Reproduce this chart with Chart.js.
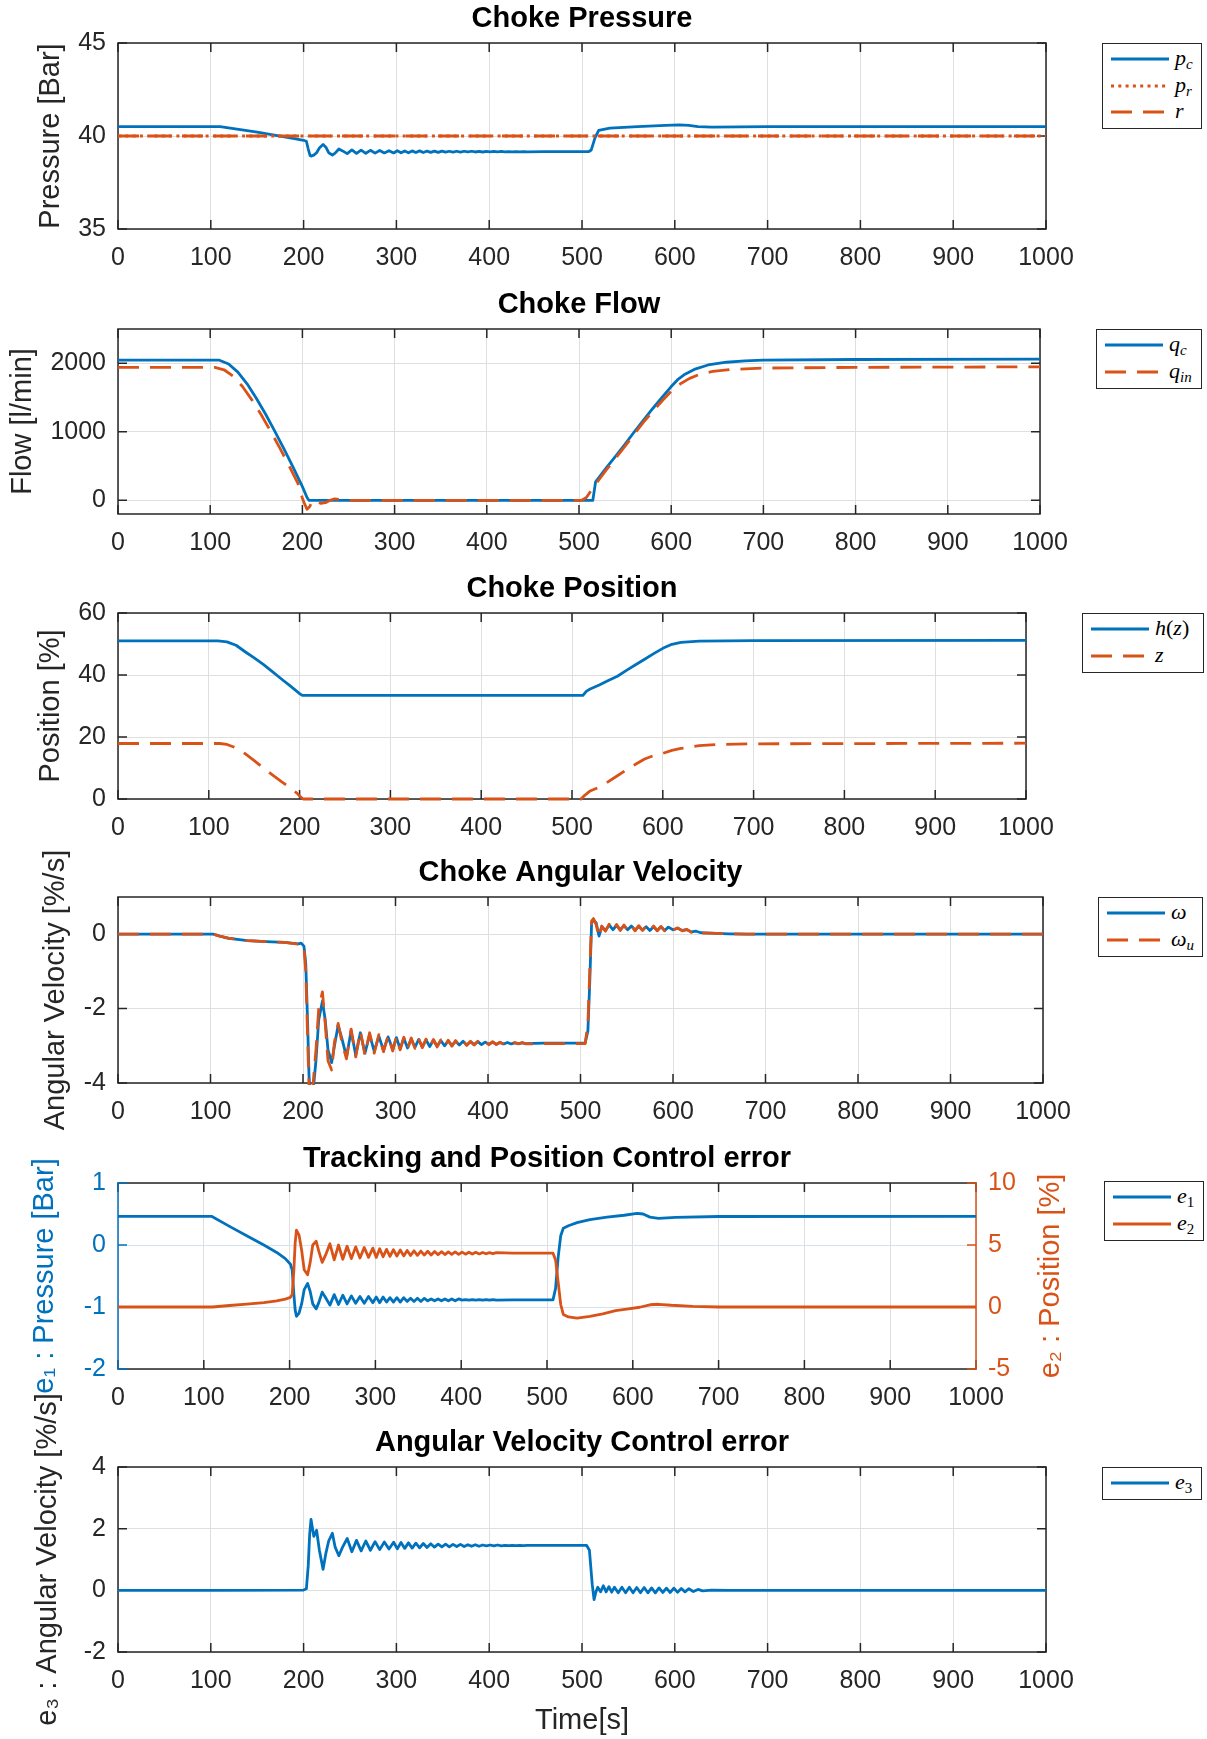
<!DOCTYPE html>
<html lang="en">
<head>
<meta charset="UTF-8">
<title>Choke control simulation</title>
<script src="https://cdn.jsdelivr.net/npm/chart.js"></script>
<style>
    body { margin: 0; background: #fff; }
    #fig { position: relative; width: 1207px; height: 1739px; overflow: hidden; background: #fff; }
    #fig canvas { position: absolute; left: 0; }
    .leg { position: absolute; box-sizing: border-box; border: 1.5px solid #262626; background: #fff; }
    .leg svg { position: absolute; left: 8px; }
    .leg .lab { position: absolute; left: 72px; font-family: 'Liberation Serif', 'DejaVu Serif', serif;
                font-style: italic; font-size: 22px; line-height: 26px; color: #000; white-space: nowrap; }
    .leg sub { font-size: 15px; vertical-align: -4px; line-height: 0; }
    .leg .up { font-style: normal; }
</style>
</head>
<body>
<div id="fig"></div>

<script>
    // ---------- data ----------
    const xTicks = [0, 100, 200, 300, 400, 500, 600, 700, 800, 900, 1000];
    const pressTicks = [35, 40, 45];
    const flowTicks = [0, 1000, 2000];
    const posTicks = [0, 20, 40, 60];
    const velTicks = [-4, -2, 0];
    const e1Ticks = [-2, -1, 0, 1];
    const e2Ticks = [-5, 0, 5, 10];
    const e3Ticks = [-2, 0, 2, 4];

    // common times of the ringing after the choke closes (peaks / troughs)
    const tSettle = [208, 211, 214, 217, 221, 224, 227, 231, 234, 238, 242, 247,
        252, 257, 262, 267, 272, 277, 282, 287, 292, 297,
        301, 305, 309, 313, 317, 321, 325, 329, 333, 337, 341, 345, 349, 353, 357, 361,
        365, 369, 373, 377, 381, 385, 389, 393, 397, 401, 405, 409, 413, 417, 421, 425,
        429, 433, 437, 441];

    // choke pressure
    const pcHeadT = [0, 110, 130, 150, 170, 190, 200, 203, 205, 207];
    const pcHeadV = [40.5, 40.5, 40.36, 40.21, 40.03, 39.86, 39.77, 39.72, 39.3, 38.95];
    const pcRing = [38.92, 38.97, 39.1, 39.35, 39.55, 39.4, 39.1, 38.98, 39.08, 39.3, 39.2, 39.05,
        39.25, 39.06, 39.24, 39.07, 39.23, 39.08, 39.22, 39.09, 39.21, 39.09,
        39.21, 39.1, 39.2, 39.1, 39.2, 39.11, 39.2, 39.11, 39.19, 39.12,
        39.19, 39.12, 39.19, 39.13, 39.18, 39.13, 39.18, 39.13, 39.18, 39.14,
        39.18, 39.14, 39.17, 39.14, 39.17, 39.15, 39.17, 39.15, 39.17, 39.15,
        39.16, 39.15, 39.16, 39.15, 39.16, 39.15];
    const pcTailT = [460, 507, 510, 514, 518, 530, 560, 590, 605, 615, 625, 640, 700, 1000];
    const pcTailV = [39.155, 39.155, 39.25, 39.9, 40.3, 40.42, 40.5, 40.57, 40.6, 40.57, 40.5, 40.48, 40.5, 40.5];
    const refT = [0, 1000];
    const prV = [40, 40];
    const rV = [40, 40];

    // choke flow
    const qcT = [0, 110, 120, 130, 140, 150, 160, 170, 180, 190, 200, 205, 207, 512, 515, 518, 530, 540,
        550, 560, 570, 580, 590, 600, 607, 615, 625, 640, 660, 680, 700, 800, 1000];
    const qcV = [2045, 2045, 1990, 1870, 1700, 1490, 1260, 1010, 750, 480, 200, 40, 0, 0, 0, 270, 480, 650,
        820, 1000, 1170, 1340, 1500, 1660, 1760, 1840, 1910, 1975, 2015, 2035, 2045, 2055, 2060];
    const qinT = [0, 105, 115, 125, 135, 145, 155, 165, 175, 185, 195, 200, 202, 205, 208, 211, 215, 220,
        225, 230, 235, 240, 250, 503, 508, 513, 520, 530, 540, 550, 560, 570, 580, 590, 600, 610,
        620, 630, 645, 665, 700, 800, 1000];
    const qinV = [1939, 1939, 1905, 1810, 1660, 1470, 1255, 1020, 775, 520, 250, 30, -40, -130, -90, 0, -15, -45,
        -35, 0, 22, 12, 0, 0, 40, 140, 270, 450, 620, 790, 970, 1140, 1300, 1450, 1590, 1700,
        1780, 1835, 1880, 1910, 1930, 1940, 1948];

    // choke position
    const hT = [0, 110, 120, 130, 140, 150, 160, 170, 180, 190, 200, 203, 512, 516, 520, 530, 540, 550,
        560, 570, 580, 590, 600, 610, 620, 640, 700, 1000];
    const hV = [51, 51, 50.7, 49.6, 47.5, 45.5, 43.4, 41.1, 38.7, 36.4, 34.0, 33.4, 33.4, 34.8, 35.5, 36.8, 38.2, 39.6,
        41.5, 43.3, 45.1, 46.9, 48.6, 49.9, 50.5, 50.9, 51.1, 51.2];
    const zT = [0, 112, 120, 130, 140, 150, 160, 170, 180, 190, 197, 201, 204, 510, 514, 520, 530, 540,
        550, 560, 570, 580, 590, 600, 610, 620, 640, 660, 700, 1000];
    const zV = [17.9, 17.9, 17.6, 16.5, 14.6, 12.4, 10.0, 7.8, 5.6, 3.5, 1.9, 0.7, 0, 0, 1.2, 2.6, 3.8, 5.6,
        7.5, 9.4, 11.2, 12.9, 14.0, 14.7, 15.7, 16.3, 17.2, 17.6, 17.8, 18.0];

    // choke angular velocity
    const wHeadT = [0, 103, 110, 120, 140, 160, 180, 195, 198, 201, 203, 205, 206.5];
    const wHeadV = [0, 0, -0.05, -0.11, -0.17, -0.2, -0.22, -0.26, -0.24, -0.32, -0.8, -2.4, -3.8];
    const wuHeadV = [0, 0, -0.05, -0.11, -0.17, -0.2, -0.22, -0.27, -0.25, -0.35, -1.0, -2.8, -4.1];
    const wRing = [-4.4, -4.2, -3.4, -2.3, -1.8, -2.3, -3.1, -3.45, -3.0, -2.45, -2.8, -3.3,
        -2.6, -3.25, -2.65, -3.2, -2.7, -3.15, -2.74, -3.12, -2.76, -3.1,
        -2.78, -3.08, -2.8, -3.06, -2.82, -3.04, -2.83, -3.03, -2.84, -3.02,
        -2.85, -3.01, -2.86, -3.0, -2.87, -2.99, -2.88, -2.98, -2.88, -2.98,
        -2.89, -2.97, -2.89, -2.97, -2.9, -2.96, -2.9, -2.96, -2.91, -2.95,
        -2.91, -2.95, -2.92, -2.94, -2.92, -2.94];
    const wuRing = [-4.5, -4.0, -3.1, -2.0, -1.55, -2.4, -3.4, -3.65, -2.9, -2.4, -2.9, -3.35,
        -2.55, -3.3, -2.6, -3.25, -2.65, -3.2, -2.7, -3.16, -2.72, -3.14,
        -2.75, -3.11, -2.77, -3.09, -2.79, -3.07, -2.8, -3.05, -2.82, -3.04,
        -2.83, -3.03, -2.84, -3.02, -2.85, -3.01, -2.86, -3.0, -2.87, -2.99,
        -2.88, -2.98, -2.88, -2.98, -2.89, -2.97, -2.89, -2.97, -2.9, -2.96,
        -2.9, -2.96, -2.91, -2.95, -2.91, -2.95];
    const tRecover = [460, 505, 508, 510, 512, 514, 517, 520, 523, 527, 531, 535, 539, 543, 547, 551, 555, 559,
        563, 567, 571, 575, 579, 583, 587, 591, 595, 600, 605, 610, 615, 620, 625, 630, 640, 660, 680, 1000];
    const wTailV = [-2.93, -2.93, -2.6, -1.3, 0.3, 0.38, 0.3, -0.05, 0.2, 0.1, 0.25, 0.12, 0.24, 0.12, 0.23, 0.12, 0.22, 0.11,
        0.21, 0.11, 0.2, 0.1, 0.2, 0.1, 0.2, 0.1, 0.19, 0.12, 0.16, 0.1, 0.12, 0.06, 0.08, 0.04, 0.03, 0.01, 0, 0];
    const wuTailV = [-2.94, -2.94, -2.4, -1.0, 0.35, 0.42, 0.25, -0.08, 0.22, 0.08, 0.27, 0.1, 0.26, 0.1, 0.25, 0.1, 0.24, 0.09,
        0.23, 0.1, 0.22, 0.09, 0.22, 0.09, 0.21, 0.09, 0.2, 0.11, 0.17, 0.09, 0.13, 0.05, 0.09, 0.03, 0.03, 0.01, 0, 0];

    // tracking and position control error
    const e1HeadT = [0, 109, 130, 150, 170, 185, 195, 201, 203, 205, 206.5];
    const e1HeadV = [0.463, 0.463, 0.3, 0.15, 0.0, -0.12, -0.22, -0.31, -0.4, -0.8, -1.05];
    const e1Ring = [-1.15, -1.1, -0.95, -0.72, -0.62, -0.75, -0.95, -1.03, -0.93, -0.76, -0.85, -0.97,
        -0.8, -0.96, -0.81, -0.95, -0.82, -0.94, -0.83, -0.94, -0.83, -0.93,
        -0.84, -0.93, -0.84, -0.92, -0.85, -0.92, -0.85, -0.92, -0.85, -0.91,
        -0.86, -0.91, -0.86, -0.91, -0.86, -0.9, -0.87, -0.9, -0.87, -0.9,
        -0.87, -0.9, -0.87, -0.9, -0.87, -0.89, -0.88, -0.89, -0.88, -0.89,
        -0.88, -0.89, -0.88, -0.89, -0.88, -0.89];
    const e1TailT = [460, 507, 510, 513, 516, 519, 525, 535, 550, 570, 590, 605, 612, 620, 630, 650, 700, 1000];
    const e1TailV = [-0.885, -0.885, -0.7, -0.2, 0.15, 0.27, 0.31, 0.36, 0.41, 0.45, 0.48, 0.51, 0.5, 0.45, 0.43, 0.445, 0.46, 0.463];
    const e2HeadT = [0, 110, 130, 150, 170, 185, 195, 201, 203, 205, 206.5];
    const e2HeadV = [0, 0, 0.12, 0.24, 0.36, 0.5, 0.64, 0.78, 1.0, 3.0, 5.2];
    const e2Ring = [6.2, 5.8, 4.6, 3.0, 2.6, 3.6, 5.0, 5.3, 4.5, 3.6, 4.2, 5.1,
        3.8, 5.0, 3.85, 4.9, 3.9, 4.85, 3.95, 4.8, 4.0, 4.75,
        4.0, 4.7, 4.05, 4.65, 4.08, 4.62, 4.1, 4.6, 4.12, 4.56,
        4.15, 4.53, 4.17, 4.51, 4.19, 4.49, 4.2, 4.48, 4.22, 4.46,
        4.23, 4.45, 4.24, 4.44, 4.25, 4.43, 4.26, 4.42, 4.27, 4.41,
        4.28, 4.4, 4.29, 4.39, 4.3, 4.38];
    const e2TailT = [460, 507, 510, 513, 516, 519, 525, 535, 550, 565, 580, 595, 608, 620, 630, 645, 670, 700, 1000];
    const e2TailV = [4.34, 4.34, 3.8, 2.0, 0.2, -0.6, -0.8, -0.9, -0.75, -0.55, -0.3, -0.15, -0.02, 0.18, 0.22, 0.14, 0.05, 0, 0];

    // angular velocity control error
    const e3HeadT = [0, 110, 200, 203, 205, 206.5];
    const e3HeadV = [0, 0, 0.01, 0.05, 0.8, 1.8];
    const e3Ring = [2.3, 1.75, 1.95, 1.3, 0.68, 1.2, 1.6, 1.85, 1.4, 1.12, 1.4, 1.68,
        1.25, 1.62, 1.28, 1.6, 1.3, 1.58, 1.32, 1.57, 1.34, 1.56,
        1.35, 1.55, 1.36, 1.54, 1.37, 1.53, 1.38, 1.52, 1.39, 1.51,
        1.4, 1.5, 1.41, 1.5, 1.41, 1.49, 1.42, 1.49, 1.42, 1.48,
        1.43, 1.48, 1.43, 1.47, 1.44, 1.47, 1.44, 1.47, 1.44, 1.46,
        1.45, 1.46, 1.45, 1.46, 1.45, 1.46];
    const e3TailT = [460, 505, 508, 511, 513, 515, 517, 520, 523, 526, 529, 532, 535, 539, 543, 547, 551, 555, 559,
        563, 567, 571, 575, 579, 583, 587, 591, 595, 599, 603, 607, 611, 615, 620, 625, 630, 640, 660, 1000];
    const e3TailV = [1.455, 1.455, 1.3, 0.2, -0.3, -0.05, 0.1, -0.05, 0.15, -0.05, 0.12, -0.06, 0.1, -0.08, 0.1, -0.08, 0.1, -0.08, 0.09,
        -0.08, 0.09, -0.08, 0.08, -0.08, 0.08, -0.07, 0.07, -0.07, 0.07, -0.06, 0.06, -0.05, 0.05, -0.04, 0.03, -0.02, 0.01, 0, 0];

    // ---------- helpers ----------
    function pts(t, v) { return t.map((x, i) => ({ x: x, y: v[i] })); }
    function joined(hT, hV, ring, tT, tV) { return pts(hT, hV).concat(pts(tSettle, ring), pts(tT, tV)); }

    const BLUE = '#0072BD', ORANGE = '#D95319', INK = '#262626', GRID = '#dfdfdf';
    const DASH = [21, 11], DOT = [3, 4.3];
    const FONT = "'Liberation Sans', Arial, Helvetica, sans-serif";
    Chart.defaults.font.family = FONT;
    Chart.defaults.color = INK;

    const plots = [
        { box: [118, 43, 1046, 229], title: 'Choke Pressure', legend: [1102, 43, 100],
          y: { min: 35, max: 45, ticks: pressTicks, label: 'Pressure [Bar]', pad: 34 },
          lines: [
              { data: joined(pcHeadT, pcHeadV, pcRing, pcTailT, pcTailV), color: BLUE, key: '<i>p</i><sub>c</sub>' },
              { data: pts(refT, prV), color: ORANGE, dash: DOT, key: '<i>p</i><sub>r</sub>' },
              { data: pts(refT, rV), color: ORANGE, dash: DASH, key: '<i>r</i>' }] },
        { box: [118, 329, 1040, 514], title: 'Choke Flow', legend: [1096, 329, 106],
          y: { min: -200, max: 2500, ticks: flowTicks, label: 'Flow [l/min]', pad: 6 },
          lines: [
              { data: pts(qcT, qcV), color: BLUE, key: '<i>q</i><sub>c</sub>' },
              { data: pts(qinT, qinV), color: ORANGE, dash: DASH, key: '<i>q</i><sub>in</sub>' }] },
        { box: [118, 613, 1026, 799], title: 'Choke Position', legend: [1082, 613, 122],
          y: { min: 0, max: 60, ticks: posTicks, label: 'Position [%]', pad: 34 },
          lines: [
              { data: pts(hT, hV), color: BLUE, key: '<i>h</i><span class="up">(</span><i>z</i><span class="up">)</span>' },
              { data: pts(zT, zV), color: ORANGE, dash: DASH, key: '<i>z</i>' }] },
        { box: [118, 897, 1043, 1083], title: 'Choke Angular Velocity', legend: [1098, 897, 105],
          y: { min: -4, max: 1, ticks: velTicks, label: 'Angular Velocity [%/s]', pad: 39 },
          lines: [
              { data: joined(wHeadT, wHeadV, wRing, tRecover, wTailV), color: BLUE, key: '<i>ω</i>' },
              { data: joined(wHeadT, wuHeadV, wuRing, tRecover, wuTailV), color: ORANGE, dash: DASH, key: '<i>ω</i><sub>u</sub>' }] },
        { box: [118, 1183, 976, 1369], title: 'Tracking and Position Control error', legend: [1104, 1181, 100],
          y: { min: -2, max: 1, ticks: e1Ticks, label: 'e₁ : Pressure [Bar]', pad: 28, color: BLUE, grid: '#d5e3ee' },
          y2: { min: -5, max: 10, ticks: e2Ticks, label: 'e₂ : Position [%]', titleX: 1051, color: ORANGE, width: 100 },
          lines: [
              { data: joined(e1HeadT, e1HeadV, e1Ring, e1TailT, e1TailV), color: BLUE, key: '<i>e</i><sub class="up">1</sub>' },
              { data: joined(e2HeadT, e2HeadV, e2Ring, e2TailT, e2TailV), color: ORANGE, axis: 'y2', key: '<i>e</i><sub class="up">2</sub>' }] },
        { box: [118, 1467, 1046, 1652], title: 'Angular Velocity Control error', legend: [1102, 1467, 100], xLabel: 'Time[s]',
          y: { min: -2, max: 4, ticks: e3Ticks, label: 'e₃ : Angular Velocity [%/s]', pad: 31 },
          lines: [
              { data: joined(e3HeadT, e3HeadV, e3Ring, e3TailT, e3TailV), color: BLUE, key: '<i>e</i><sub class="up">3</sub>' }] }
    ];

    // MATLAB-like box with inward tick marks, plus a right-hand label that reads upward
    const axesBox = {
        id: 'axesBox',
        beforeDatasetsDraw(chart, args, o) {
            const { ctx, chartArea: a, scales } = chart;
            const tl = 9;
            const seg = (col, list) => {
                ctx.strokeStyle = col;
                ctx.beginPath();
                list.forEach(s => { ctx.moveTo(s[0], s[1]); ctx.lineTo(s[2], s[3]); });
                ctx.stroke();
            };
            ctx.save();
            ctx.lineWidth = 1.5;
            const hx = [[a.left - 0.75, a.top, a.right + 0.75, a.top], [a.left - 0.75, a.bottom, a.right + 0.75, a.bottom]];
            scales.x.ticks.forEach(t => {
                const px = scales.x.getPixelForValue(t.value);
                hx.push([px, a.top, px, a.top + tl], [px, a.bottom, px, a.bottom - tl]);
            });
            seg(INK, hx);
            const yl = scales.y.ticks.map(t => scales.y.getPixelForValue(t.value));
            const yr = scales.y2 ? scales.y2.ticks.map(t => scales.y2.getPixelForValue(t.value)) : yl;
            const L = [[a.left, a.top, a.left, a.bottom]];
            const R = [[a.right, a.top, a.right, a.bottom]];
            yl.forEach(py => L.push([a.left, py, a.left + tl, py]));
            yr.forEach(py => R.push([a.right, py, a.right - tl, py]));
            seg(o.leftColor || INK, L);
            seg(o.rightColor || INK, R);
            ctx.restore();
        },
        afterDraw(chart, args, o) {
            if (!o.rightTitle) return;
            const { ctx, chartArea: a } = chart;
            ctx.save();
            ctx.translate(o.rightTitle.x, (a.top + a.bottom) / 2);
            ctx.rotate(-Math.PI / 2);
            ctx.font = '29px ' + FONT;
            ctx.fillStyle = o.rightTitle.color;
            ctx.textAlign = 'center';
            ctx.textBaseline = 'middle';
            ctx.fillText(o.rightTitle.text, 0, 0);
            ctx.restore();
        }
    };

    function yScale(c, position, width) {
        return {
            type: 'linear', position: position, min: c.min, max: c.max, bounds: 'data',
            afterBuildTicks: s => { s.ticks = c.ticks.map(v => ({ value: v })); },
            afterFit: s => { s.width = width; },
            grid: { display: position === 'left', color: c.grid || GRID, lineWidth: 1, drawTicks: false },
            border: { display: false },
            ticks: { padding: 12, color: c.color || INK, font: { size: 25 }, callback: v => String(v) },
            title: { display: position === 'left', text: c.label, color: c.color || INK, font: { size: 29 },
                     padding: { top: c.pad || 0, bottom: 0 } }
        };
    }

    const fig = document.getElementById('fig');
    const W = 1207, EXTRA = 40, TITLE_H = 40;

    plots.forEach(p => {
        const [l, t, r, b] = p.box;
        const xH = p.xLabel ? 1739 - b : 60;
        const h = EXTRA + TITLE_H + (b - t) + xH;
        const cv = document.createElement('canvas');
        cv.width = W; cv.height = h;
        cv.style.width = W + 'px'; cv.style.height = h + 'px';
        cv.style.top = (t - TITLE_H - EXTRA) + 'px';
        fig.appendChild(cv);

        const scales = {
            x: {
                type: 'linear', min: 0, max: 1000, bounds: 'data',
                afterBuildTicks: s => { s.ticks = xTicks.map(v => ({ value: v })); },
                afterFit: s => { s.height = xH; },
                grid: { color: GRID, lineWidth: 1, drawTicks: false },
                border: { display: false },
                ticks: { padding: 14, autoSkip: false, maxRotation: 0, font: { size: 25 }, callback: v => String(v) },
                title: p.xLabel ? { display: true, text: p.xLabel, font: { size: 29 }, padding: { top: 0, bottom: 1 } }
                                : { display: false }
            },
            y: yScale(p.y, 'left', l)
        };
        let rightW = 0;
        if (p.y2) { scales.y2 = yScale(p.y2, 'right', p.y2.width); rightW = p.y2.width; }

        const n = p.lines.length;
        const datasets = p.lines.map((ln, i) => ({
            data: ln.data,
            yAxisID: ln.axis || 'y',
            borderColor: ln.color,
            borderWidth: 2.8,
            borderDash: ln.dash || [],
            borderCapStyle: 'butt',
            borderJoinStyle: 'round',
            pointRadius: 0,
            tension: 0,
            fill: false,
            clip: 2,
            order: n - 1 - i
        }));

        const boxOpts = p.y2
            ? { leftColor: BLUE, rightColor: ORANGE, rightTitle: { text: p.y2.label, color: p.y2.color, x: p.y2.titleX } }
            : {};

        new Chart(cv, {
            type: 'line',
            data: { datasets: datasets },
            options: {
                responsive: false,
                animation: false,
                events: [],
                layout: { padding: { left: 0, top: EXTRA, right: W - r - rightW, bottom: 0 } },
                plugins: {
                    legend: { display: false },
                    tooltip: { enabled: false },
                    title: { display: true, text: p.title, fullSize: false, color: '#000',
                             font: { size: 29, weight: 'bold', lineHeight: '32px' }, padding: { top: 0, bottom: 8 } },
                    axesBox: boxOpts
                },
                scales: scales
            },
            plugins: [axesBox]
        });

        // legend box
        const [lx, ly, lw] = p.legend;
        const leg = document.createElement('div');
        leg.className = 'leg';
        leg.style.left = lx + 'px';
        leg.style.top = ly + 'px';
        leg.style.width = lw + 'px';
        leg.style.height = (33 + 26.5 * (n - 1)) + 'px';
        p.lines.forEach((ln, i) => {
            const cy = 15 + 26.5 * i;
            const dash = ln.dash ? ln.dash.join(' ') : 'none';
            leg.insertAdjacentHTML('beforeend',
                '<svg width="58" height="8" style="top:' + (cy - 4) + 'px">' +
                '<line x1="0" y1="4" x2="58" y2="4" stroke="' + ln.color + '" stroke-width="2.8" stroke-dasharray="' + dash + '"/></svg>' +
                '<span class="lab" style="top:' + (cy - 14) + 'px">' + ln.key + '</span>');
        });
        fig.appendChild(leg);
    });
</script>
</body>
</html>
